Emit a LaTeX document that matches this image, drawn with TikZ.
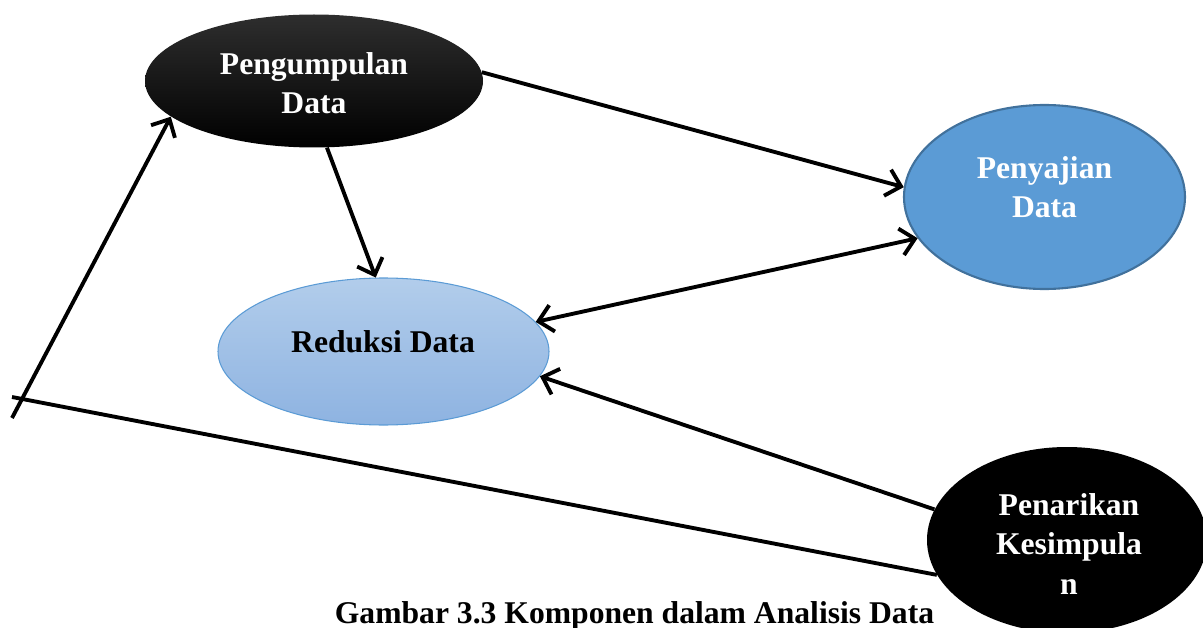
\documentclass[tikz,border=0pt]{standalone}
\usepackage{fontspec}
\setmainfont{Liberation Serif}
\usetikzlibrary{shapes.geometric,arrows.meta}
\definecolor{midblue}{RGB}{91,155,213}
\definecolor{darkblue}{RGB}{65,113,156}
\definecolor{lightbluetop}{RGB}{178,205,235}
\definecolor{lightbluebot}{RGB}{142,179,225}
\begin{document}
\begin{tikzpicture}[>={Straight Barb[length=2.8mm,width=5.4mm]},
	every node/.style={font=\bfseries\fontsize{18}{22.5}\selectfont, align=center},
	blob/.style={ellipse, inner sep=0pt}]
	\useasboundingbox (0,0) rectangle (24.06,-12.56);
	\clip (0,0) rectangle (24.06,-12.56);
	% ellipses
	\node[blob, minimum width=6.76cm, minimum height=2.66cm, top color=black!82, middle color=black, bottom color=black] (peng) at (6.28,-1.62) {};
	\node[blob, minimum width=5.62cm, minimum height=3.68cm, fill=midblue, draw=darkblue, line width=1.2pt] (penyaj) at (20.89,-3.94) {};
	\node[blob, minimum width=6.62cm, minimum height=2.94cm, top color=lightbluetop, bottom color=lightbluebot, draw=midblue, line width=0.6pt] (redu) at (7.67,-7.03) {};
	\node[blob, minimum width=5.6cm, minimum height=3.72cm, fill=black] (penar) at (21.34,-10.8) {};
	\node[text=white] (pengtxt) at (6.28,-1.66) {Pengumpulan\\Data};
	\node[text=white] (penyajtxt) at (20.89,-3.74) {Penyajian\\Data};
	\node (redutxt) at (7.66,-6.84) {Reduksi Data};
	\node[text=white] (penartxt) at (21.38,-10.88) {Penarikan\\Kesimpula\\n};
	\node[anchor=base] (capt) at (12.69,-12.46) {Gambar 3.3 Komponen dalam Analisis Data};
	% connectors
	\coordinate (back1) at (0.24,-7.94);
	\coordinate (back2) at (0.24,-8.36);
	\begin{scope}[line width=2.2pt]
		\draw[->] (peng.3) -- (penyaj.176);
		\draw[->] (peng.281) -- (redu.96);
		\draw[<->] (redu.11) -- (penyaj.198);
		\draw[->] (penar.167) -- (redu.-9);
		\draw (penar.195) -- (back1);
		\draw[->] (back2) -- (peng.194);
	\end{scope}
\end{tikzpicture}
\end{document}
